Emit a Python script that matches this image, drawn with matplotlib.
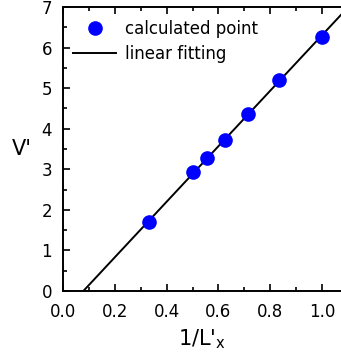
import numpy as np
import matplotlib.pyplot as plt
from matplotlib.ticker import MultipleLocator

# 数据
inv_lx = [1 / 3, 1 / 2, 1 / 1.8, 1 / 1.6, 1 / 1.4, 1 / 1.2, 1.0]
v_prime = [1.70, 2.93, 3.27, 3.73, 4.36, 5.20, 6.27]

plt.rcParams['font.family'] = ['DejaVu Sans']

fig = plt.figure(figsize=(3.41, 3.53), dpi=100)
ax = fig.add_axes([0.185, 0.176, 0.815, 0.804])

# 线性拟合
k, b = np.polyfit(inv_lx, v_prime, 1)
xfit = np.array([0.0, 1.2])
ax.plot(xfit, k * xfit + b, color='black', linewidth=1.4, label='linear fitting', zorder=2)
ax.plot(inv_lx, v_prime, 'o', color='#0000ff', markersize=9.5, label='calculated point', zorder=3)

ax.set_xlim(0, 1.073)
ax.set_ylim(0, 7)
ax.xaxis.set_major_locator(MultipleLocator(0.2))
ax.xaxis.set_minor_locator(MultipleLocator(0.1))
ax.yaxis.set_major_locator(MultipleLocator(1))
ax.yaxis.set_minor_locator(MultipleLocator(0.5))
ax.tick_params(which='both', direction='in', top=True, right=False, labelsize=12, width=1.2)
ax.tick_params(which='major', length=5)
ax.tick_params(which='minor', length=3)
ax.tick_params(axis='x', pad=9)
ax.tick_params(axis='y', pad=8)
ax.spines['right'].set_visible(False)
for s in ['left', 'bottom', 'top']:
    ax.spines[s].set_linewidth(1.4)

ax.set_xlabel("1/L'$_\\mathregular{x}$", fontsize=15, labelpad=4)
ax.set_ylabel("V'", fontsize=15, rotation=0, labelpad=14, va='center')

h, l = ax.get_legend_handles_labels()
ax.legend(h[::-1], l[::-1], loc='upper left', frameon=False, fontsize=12,
          handlelength=2.6, borderaxespad=0.2, labelspacing=0.4, handletextpad=0.5,
          bbox_to_anchor=(0, 0.99))

plt.savefig('out.png', dpi=100)
